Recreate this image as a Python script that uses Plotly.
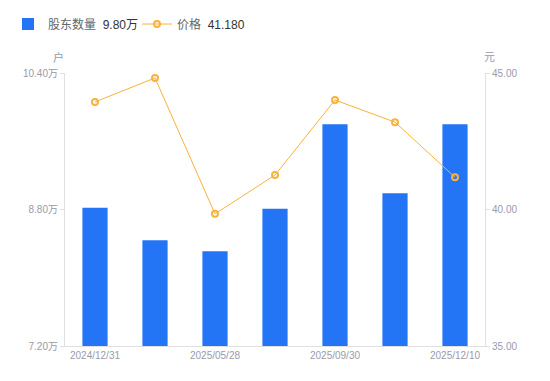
import plotly.graph_objects as go

categories = ["2024/12/31", "2025/03/31", "2025/05/28", "2025/06/30", "2025/09/30", "2025/10/31", "2025/12/10"]
holders = [8.82, 8.44, 8.31, 8.81, 9.80, 8.99, 9.80]   # 万户
price = [43.94, 44.82, 39.84, 41.26, 44.01, 43.20, 41.18]  # 元
tick_labels_shown = ["2024/12/31", "2025/05/28", "2025/09/30", "2025/12/10"]
left_ticks = [7.2, 8.8, 10.4]
right_ticks = [35, 40, 45]

gray = "#9a9aa8"
fontfam = "Liberation Sans, Noto Sans CJK SC, sans-serif"
# page has an 8px body margin; figure is sized to fill the remaining window
W, H = 542, 373
OFF = 8
L, T, R, B = 65 - OFF, 73 - OFF, 65, 35

fig = go.Figure()
fig.add_trace(go.Bar(
    x=categories, y=holders,
    name="股东数量&nbsp;&nbsp;<span style='color:#333333'>9.80万</span>",
    marker=dict(color="#2475f5", line=dict(width=0)),
    width=0.42, yaxis="y",
))
fig.add_trace(go.Scatter(
    x=categories, y=price,
    name="价格&nbsp;&nbsp;<span style='color:#333333'>41.180</span>",
    mode="lines+markers",
    line=dict(color="#f9b23c", width=1),
    marker=dict(symbol="circle-open", size=6, color="#f9b23c", line=dict(width=2, color="#f9b23c")),
    yaxis="y2",
))

pw = W - L - R
ph = H - T - B
fig.update_layout(
    width=W, height=H,
    margin=dict(l=L, r=R, t=T, b=B, autoexpand=False),
    paper_bgcolor="white", plot_bgcolor="white",
    font=dict(family=fontfam, color=gray, size=11),
    showlegend=True,
    legend=dict(orientation="h", x=0, y=1 - (24 - OFF) / H, xanchor="left", yanchor="middle",
                xref="container", yref="container", entrywidth=84,
                font=dict(size=12, color="#666666", family=fontfam), traceorder="normal"),
    xaxis=dict(
        type="category", categoryorder="array", categoryarray=categories,
        tickvals=tick_labels_shown, ticktext=tick_labels_shown,
        showline=True, linecolor="#e0e0e0", linewidth=1,
        ticks="", showgrid=False, tickfont=dict(size=10, color=gray),
        range=[-0.5, 6.5], zeroline=False,
    ),
    yaxis=dict(
        range=[7.2, 10.4], tickvals=left_ticks,
        ticktext=[f"{v:.2f}万" for v in left_ticks],
        showline=True, linecolor="#e0e0e0", linewidth=1,
        ticks="outside", ticklen=4, tickcolor="#e0e0e0",
        showgrid=False, zeroline=False, tickfont=dict(size=10, color=gray),
    ),
    yaxis2=dict(
        range=[35, 45], tickvals=right_ticks,
        ticktext=[f"{v:.2f}" for v in right_ticks],
        overlaying="y", side="right",
        showline=True, linecolor="#e0e0e0", linewidth=1,
        ticks="outside", ticklen=4, tickcolor="#e0e0e0",
        showgrid=False, zeroline=False, tickfont=dict(size=10, color=gray),
    ),
    annotations=[
        dict(text="户", x=(58 - 65) / pw, y=(346 - 57) / ph, xref="paper", yref="paper",
             xanchor="center", yanchor="middle",
             showarrow=False, font=dict(size=11, color=gray)),
        dict(text="元", x=(489 - 65) / pw, y=(346 - 57) / ph, xref="paper", yref="paper",
             xanchor="center", yanchor="middle",
             showarrow=False, font=dict(size=11, color=gray)),
    ],
)
fig.write_html("out.html")
